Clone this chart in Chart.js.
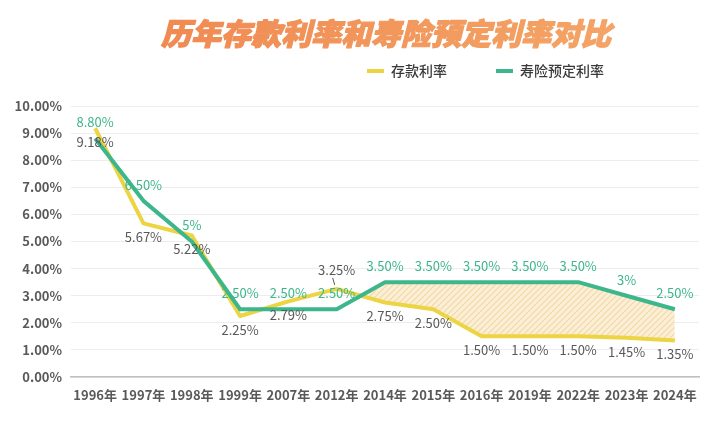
<!DOCTYPE html>
<html><head><meta charset="utf-8">
<script src="https://cdn.jsdelivr.net/npm/chart.js@4/dist/chart.umd.min.js"></script>
<style>html,body{margin:0;padding:0;background:#fff}#wrap{width:720px;height:423px;position:relative}</style>
</head><body><div id="wrap"><canvas id="c"></canvas></div>
<script>
const titleText = '历年存款利率和寿险预定利率对比';
const categories = ['1996年','1997年','1998年','1999年','2007年','2012年','2014年','2015年','2016年','2019年','2022年','2023年','2024年'];
const depositRates = [9.18,5.67,5.22,2.25,2.79,3.25,2.75,2.50,1.50,1.50,1.50,1.45,1.35];
const insuranceRates = [8.80,6.50,5.00,2.50,2.50,2.50,3.50,3.50,3.50,3.50,3.50,3.00,2.50];
const seriesNames = ['存款利率','寿险预定利率'];
const yMin = 0, yMax = 10, yStep = 1;

const YELLOW = '#EDD443', GREEN = '#3DB68B', GREY = '#595959';
const FONT = '"Noto Sans CJK SC", "Noto Sans", sans-serif';
const fillStart = 5; // shaded gap starts from 2012 onward
const yellowLabelAbove = new Set([5]);

const ctx = document.getElementById('c').getContext('2d');
function makeHatch(){
  const p=document.createElement('canvas'); p.width=6; p.height=6;
  const g=p.getContext('2d');
  g.fillStyle='#FBEFD6'; g.fillRect(0,0,6,6);
  g.strokeStyle='#F1D8AA'; g.lineWidth=1.2;
  g.beginPath();
  g.moveTo(0,6); g.lineTo(6,0);
  g.moveTo(-1,1); g.lineTo(1,-1);
  g.moveTo(5,7); g.lineTo(7,5);
  g.stroke();
  return ctx.createPattern(p,'repeat');
}
const fmt = v => (Number.isInteger(v) ? v : v.toFixed(2)) + '%';

const decor = {
  id:'decor',
  afterDraw(chart){
    const c = chart.ctx;
    c.save();
    // title
    c.font = 'italic 900 30px ' + FONT;
    c.textAlign='center'; c.textBaseline='middle';
    const grad = c.createLinearGradient(160,0,612,0);
    grad.addColorStop(0,'#F08A52'); grad.addColorStop(1,'#F4A466');
    c.fillStyle = grad; c.strokeStyle = grad; c.lineWidth = 1.2; c.lineJoin='round';
    c.strokeText(titleText, 386, 34);
    c.fillText(titleText, 386, 34);
    // legend
    const items = [{x:367, color:YELLOW, text:seriesNames[0]},{x:496, color:GREEN, text:seriesNames[1]}];
    c.font = '500 14px ' + FONT; c.textAlign='left';
    items.forEach(it=>{
      c.strokeStyle = it.color; c.lineWidth=4; c.lineCap='butt';
      c.beginPath(); c.moveTo(it.x,71); c.lineTo(it.x+17,71); c.stroke();
      c.fillStyle = '#3A3A3A';
      c.fillText(it.text, it.x+24, 71);
    });
    c.restore();
  },
  afterDatasetsDraw(chart){
    const c = chart.ctx;
    c.save();
    c.font = '13px ' + FONT; c.textAlign='center'; c.textBaseline='middle';
    const m0 = chart.getDatasetMeta(0), m1 = chart.getDatasetMeta(1);
    m0.data.forEach((pt,i)=>{
      const above = yellowLabelAbove.has(i);
      const y = above ? pt.y - 19 : pt.y + 14;
      c.fillStyle = GREY;
      c.fillText(fmt(depositRates[i]), pt.x, y);
      if (above){
        c.strokeStyle = GREY; c.lineWidth = 1;
        c.beginPath(); c.moveTo(pt.x-4, y+8); c.lineTo(pt.x-2, y+15); c.stroke();
      }
    });
    m1.data.forEach((pt,i)=>{
      c.fillStyle = GREEN;
      c.fillText(fmt(insuranceRates[i]), pt.x, pt.y - 16);
    });
    c.restore();
  }
};

new Chart(ctx, {
  type:'line',
  data:{
    labels: categories,
    datasets:[
      {label:seriesNames[0], data:depositRates, borderColor:YELLOW, borderWidth:4, pointRadius:0, tension:0, fill:false, order:1, borderJoinStyle:'round'},
      {label:seriesNames[1], data:insuranceRates, borderColor:GREEN, borderWidth:4, pointRadius:0, tension:0, fill:false, order:0, borderJoinStyle:'round'},
      {label:'gap', data:insuranceRates.map((v,i)=> i<fillStart ? null : v), borderWidth:0, borderColor:'rgba(0,0,0,0)', pointRadius:0, tension:0, order:2,
        fill:{target:0, above:makeHatch(), below:'rgba(0,0,0,0)'}}
    ]
  },
  options:{
    responsive:true, maintainAspectRatio:false, animation:false,
    layout:{padding:{top:106, right:21, bottom:0, left:0}},
    plugins:{legend:{display:false}, title:{display:false}, tooltip:{enabled:false}},
    scales:{
      x:{
        offset:true,
        grid:{display:false, drawTicks:false},
        border:{color:'#BFBFBF', width:1.5},
        ticks:{color:GREY, font:{family:FONT, size:13, weight:'bold'}, padding:10, maxRotation:0, autoSkip:false},
        afterFit(s){ s.height = 46; }
      },
      y:{
        min:yMin, max:yMax,
        grid:{color:'#EDEDED', lineWidth:1, drawTicks:false},
        border:{display:false},
        ticks:{stepSize:yStep, color:GREY, font:{family:FONT, size:13, weight:'bold'}, padding:9, callback:v=>v.toFixed(2)+'%'},
        afterFit(s){ s.width = 71; }
      }
    }
  },
  plugins:[decor]
});
</script></body></html>
